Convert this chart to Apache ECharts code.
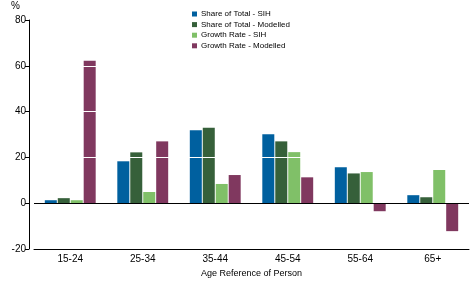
<!DOCTYPE html>
<html>
<head>
<meta charset="utf-8">
<script src="https://cdn.jsdelivr.net/npm/echarts@6/dist/echarts.min.js"></script>
<style>
  html, body { margin: 0; padding: 0; background: #fff; }
  #main { width: 472px; height: 283px; }
</style>
</head>
<body>
<div id="main"></div>
<script>
  const ageGroups = ['15-24', '25-34', '35-44', '45-54', '55-64', '65+'];
  const shareSIH = [1.3, 18.3, 31.9, 30.1, 15.7, 3.5];
  const shareModelled = [2.2, 22.2, 33.0, 27.0, 13.0, 2.6];
  const growthSIH = [1.3, 4.9, 8.4, 22.3, 13.6, 14.5];
  const growthModelled = [62.2, 27.0, 12.3, 11.3, -3.5, -12.2];
  const yTicks = { min: -20, max: 80, interval: 20 };

  const font = 'Liberation Sans, Arial, sans-serif';
  let myChart = echarts.init(document.getElementById('main'));

  function bar(name, data, color) {
    return {
      name: name,
      type: 'bar',
      data: data,
      barWidth: 12,
      barGap: '8%',
      itemStyle: { color: color },
      emphasis: { disabled: true }
    };
  }

  let option = {
    animation: false,
    textStyle: { fontFamily: font },
    legend: {
      orient: 'vertical',
      left: 187,
      top: 5,
      itemWidth: 5,
      itemHeight: 5,
      itemGap: 2.6,
      icon: 'rect',
      textStyle: { fontSize: 8, color: '#000', fontFamily: font, padding: [0, 0, 0, -1] },
      data: ['Share of Total - SIH', 'Share of Total - Modelled', 'Growth Rate - SIH', 'Growth Rate - Modelled']
    },
    graphic: [{
      type: 'text',
      left: 11,
      top: 1,
      style: { text: '%', fontSize: 10, fill: '#000', fontFamily: font }
    }],
    grid: { left: 34, right: 3, top: 20, bottom: 32 },
    xAxis: {
      type: 'category',
      data: ageGroups,
      name: 'Age Reference of Person',
      nameLocation: 'middle',
      nameGap: 20,
      nameTextStyle: { fontSize: 9, color: '#000', fontFamily: font },
      axisLine: { onZero: false, lineStyle: { color: '#000', width: 1 } },
      axisTick: { alignWithLabel: true, length: 4, lineStyle: { color: '#000' } },
      axisLabel: { fontSize: 10, color: '#000', margin: 5, fontFamily: font }
    },
    yAxis: {
      type: 'value',
      min: yTicks.min,
      max: yTicks.max,
      interval: yTicks.interval,
      offset: 5,
      z: 5,
      axisLine: { show: true, lineStyle: { color: '#000', width: 1 } },
      axisTick: { show: true, length: 4, lineStyle: { color: '#000' } },
      axisLabel: { fontSize: 10, color: '#000', margin: 3, fontFamily: font },
      splitLine: {
        show: true,
        lineStyle: { color: ['#000', '#000', '#fff', '#fff', '#fff', '#fff'], width: 1 }
      }
    },
    series: [
      bar('Share of Total - SIH', shareSIH, '#00609f'),
      bar('Share of Total - Modelled', shareModelled, '#36603a'),
      bar('Growth Rate - SIH', growthSIH, '#80c068'),
      bar('Growth Rate - Modelled', growthModelled, '#80385f')
    ]
  };
  myChart.setOption(option);
</script>
</body>
</html>
